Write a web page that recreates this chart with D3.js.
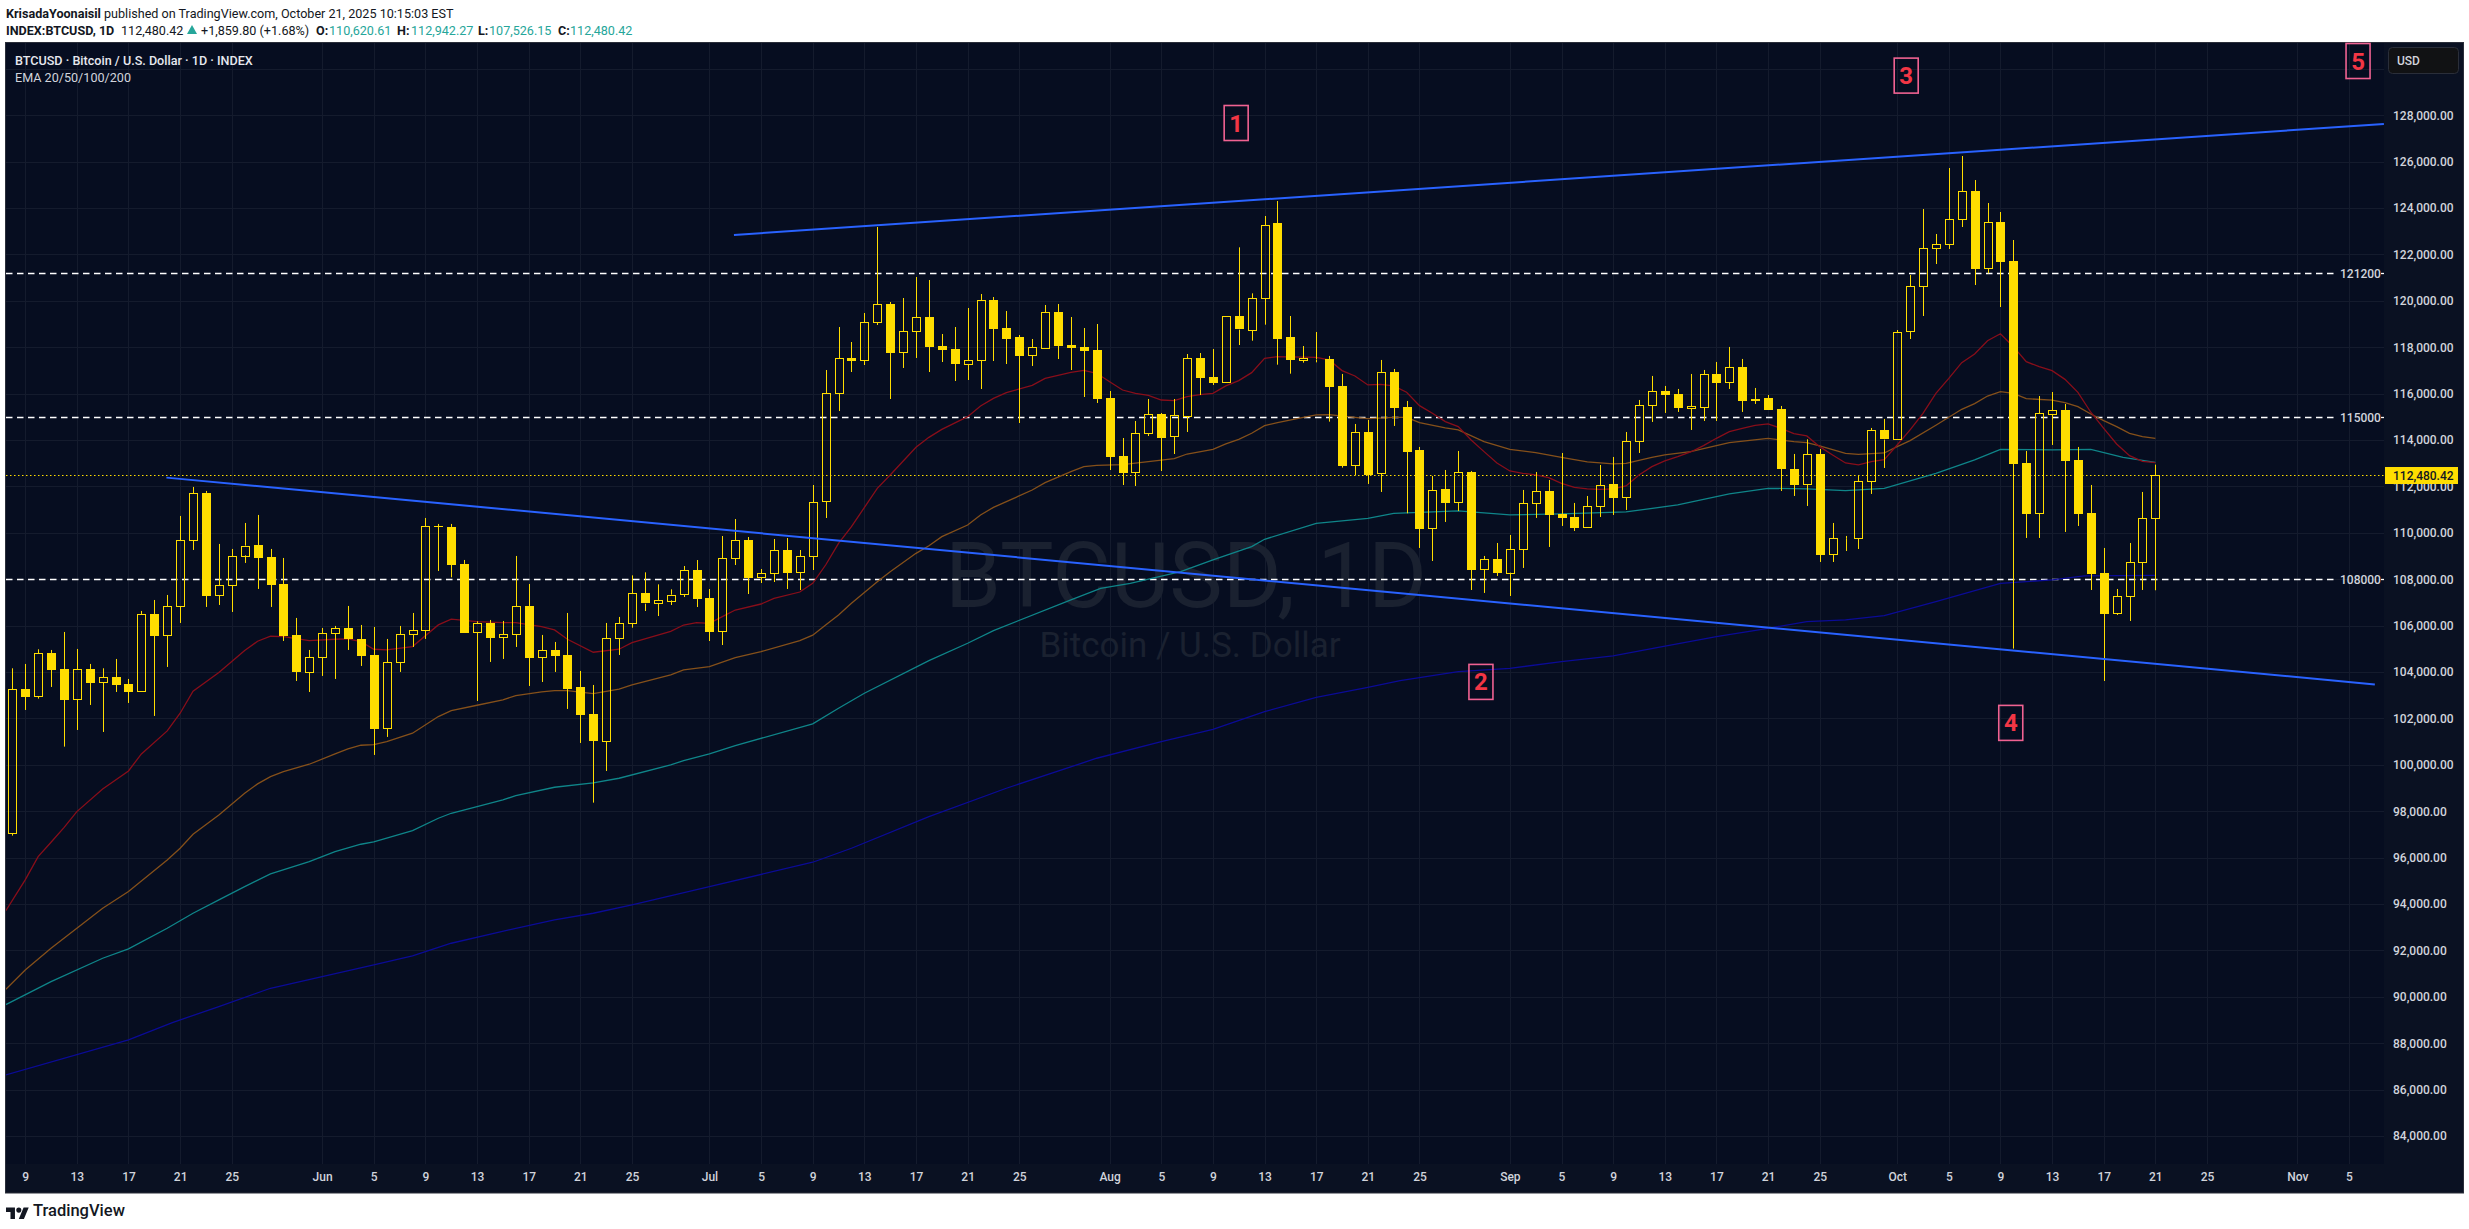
<!DOCTYPE html>
<html><head><meta charset="utf-8"><title>BTCUSD</title>
<script src="https://cdn.jsdelivr.net/npm/d3@7/dist/d3.min.js"></script>
<style>html,body{margin:0;padding:0;background:#fff}svg{display:block;font-family:Roboto,sans-serif}</style>
</head><body><div id="chart"></div>
<script>
const opens=[97049,103271,102940,104823,104133,102825,104133,103558,103788,103486,
103170,106504,105584,106834,109680,111720,107309,107740,109033,109478,
108961,107797,105599,103975,104636,105671,105900,105426,104737,101575,
104420,105627,105800,110283,110255,108659,105714,106116,105498,105627,
106849,104636,104952,104737,103357,102193,101014,105455,106099,107392,
106961,107091,107335,108398,107191,105754,108901,109692,108082,108255,
109261,108298,108987,111344,116014,117538,117423,119061,119866,117767,
118673,119305,118055,117926,117250,117423,120038,118831,118443,117638,
117969,119521,118098,118012,117882,115813,113313,112594,114276,115123,
114146,115037,117538,116718,116476,119333,118715,120109,123343,118442,
117437,117470,117497,116333,112898,114349,112553,116936,115427,113574,
110182,111892,111303,112625,108415,108875,108285,109277,111260,111806,
110815,110685,110225,111131,112108,111518,113933,115485,116117,115988,
115355,115398,116850,116476,117152,115772,115815,115341,112754,112079,
113401,109076,109765,109765,112223,114421,114033,118672,120626,122265,
122423,123515,124736,121402,123400,121718,113013,110829,115097,115298,
113142,110858,108271,106518,107251,108716,110620];
const closes=[103256,102940,104808,104104,102811,104118,103544,103774,103458,103156,
106490,105570,106834,109680,111706,107294,107740,108990,109450,108933,
107769,105570,104018,104636,105671,105886,105426,104708,101561,104420,
105627,105800,110283,110269,108631,105699,106102,105484,105627,106834,
104622,104938,104708,103271,102164,101043,105455,106102,107392,106947,
107091,107335,108384,107163,105740,108901,109677,108068,108255,109246,
108284,108987,111315,116014,117523,117408,119075,119851,117753,118687,
119291,118012,117882,117279,117437,120024,118788,118357,117624,117997,
119506,118055,117969,117839,115770,113270,112580,114290,115109,114089,
115066,117523,116675,116460,119333,118759,120109,123256,118356,117465,
117523,117490,116289,112884,114335,112496,116922,115398,113487,110168,
111835,111289,112611,108400,108860,108271,109306,111274,111792,110771,
110642,110211,111145,112050,111504,113947,115499,116103,115944,115384,
115456,116836,116462,117137,115686,115686,115298,112754,112065,113387,
109061,109765,109765,112223,114421,114019,118643,120626,122265,122437,
123515,124722,121374,123385,121675,112984,110814,115154,115283,113099,
110814,108228,106503,107265,108731,110628,112480];
const highs=[104162,104349,104981,104952,105728,104995,104349,104162,104564,103702,
106633,107107,107323,110729,111979,111807,109522,109306,110427,110772,
109306,108918,106332,104952,105900,105987,106849,106030,105944,105426,
105987,106547,110642,110384,110384,108832,106188,106245,106202,109004,
107797,105599,105297,106547,104047,103443,106116,106375,108168,108298,
107780,107565,108571,108829,107579,109864,110597,109821,108441,109735,
109778,109261,112063,117020,118874,118227,119478,123185,119952,120124,
121030,120900,118572,118874,119693,120297,120167,119564,118529,118357,
119822,119866,119305,118831,119003,116115,114089,114822,115770,115167,
115770,117710,117753,117925,119333,122308,120325,123659,124305,119348,
118054,118658,117626,116850,114694,114867,117453,117065,115686,113703,
112453,112711,113530,112668,109004,109564,109909,111849,112625,112280,
113444,111289,111590,112927,113272,114349,115729,116764,116333,116203,
116850,117022,117367,118014,117497,116246,115944,115470,113401,114033,
113617,110427,109866,112496,114522,114910,118744,121115,123960,122883,
125728,126245,125210,124219,123831,122624,113530,115899,116071,115554,
113703,112065,109349,107581,109564,111763,112942];
const lows=[96948,102365,102854,103357,100785,101503,102581,101417,103141,102667,
103170,102107,104219,106116,109263,106806,106892,106590,108703,107582,
106806,105340,103616,103141,103831,103702,104952,104262,100426,101202,
104004,105081,105426,108358,108085,105699,102753,104435,104564,105081,
103400,103572,104004,102409,100943,98371,99736,104736,105912,106631,
106415,106890,107234,106803,105338,105165,108614,107364,107838,107881,
107579,107536,108398,110640,115253,116934,117236,118960,115770,117107,
117538,116934,117365,116546,116589,116201,117408,117279,114736,117193,
117926,117494,117020,115856,115598,112709,112063,112020,114175,112666,
113399,114348,115942,116373,116476,118098,118284,118974,117250,116862,
117336,117350,114795,112812,112481,112108,111763,114608,110843,109349,
108788,110470,110944,107538,107409,108142,107279,108487,110642,109392,
110297,110082,110225,110685,110771,110987,113444,114781,115169,115212,
114436,114824,114824,116203,115212,115557,115298,111806,111590,111159,
108745,108745,109219,109305,111677,112797,114033,118356,119348,121589,
122236,123184,120684,121187,119735,105009,109780,109780,113789,110038,
110297,107538,103615,106460,106202,107538,107526];

// EMA readings: [session number (1 = May 8), price]
const ema20=[[0.5,93717],[2,95039],[3,96045],[4,96663],[5,97295],[6,97985],[8,98962],[10,99738],[11,100471],[13,101463],[14,102224],[15,103173],[17,103977],[19,104926],[20,105328],[21,105544],[22,105529],[24,105357],[26,105414],[27,105429],[28,105314],[29,104983],[30,104955],[32,105098],[34,106032],[35,106277],[37,106176],[39,106133],[40,106133],[42,105960],[43,105817],[44,105414],[46,104854],[48,104983],[49,105266],[52,105754],[53,106027],[54,106127],[55,106099],[56,106386],[57,106674],[59,106933],[60,107177],[62,107450],[63,107823],[64,108614],[65,109548],[66,110266],[68,111919],[69,112494],[71,113686],[72,114118],[73,114462],[75,115008],[76,115469],[77,115799],[78,116043],[80,116359],[81,116661],[83,116920],[84,117006],[85,116877],[86,116517],[87,116158],[88,116014],[89,115928],[90,115727],[91,115698],[92,115871],[93,115957],[94,116016],[95,116333],[96,116562],[97,116907],[98,117525],[99,117597],[100,117583],[102,117568],[103,117453],[104,116994],[105,116764],[106,116376],[107,116404],[108,116333],[109,116060],[110,115485],[111,115154],[112,114795],[113,114579],[114,114005],[115,113502],[116,113009],[117,112668],[118,112568],[119,112496],[120,112381],[121,112136],[122,111964],[123,111892],[124,111878],[125,111892],[126,112022],[127,112496],[128,112855],[129,113099],[130,113286],[131,113487],[132,113760],[133,114076],[134,114364],[135,114508],[136,114637],[137,114694],[138,114508],[139,114278],[140,114177],[141,113717],[142,113358],[143,113013],[144,112927],[145,113071],[146,113157],[147,113789],[148,114436],[149,115154],[150,116014],[151,116660],[152,117336],[153,117709],[154,118284],[155,118586],[156,118025],[157,117379],[158,117163],[159,116991],[160,116617],[161,116057],[162,115200],[163,114508],[164,113832],[165,113329],[166,113085],[167,113027]];
const ema50=[[0.5,90326],[2,91159],[4,92093],[6,92956],[8,93818],[10,94536],[13,95901],[14,96404],[15,97008],[17,97841],[19,98775],[20,99178],[21,99494],[22,99709],[24,100026],[26,100471],[27,100687],[28,100845],[29,100874],[30,101003],[32,101362],[34,102081],[35,102339],[37,102569],[39,102799],[40,102986],[42,103144],[43,103201],[44,103201],[46,103072],[48,103259],[49,103446],[52,103877],[53,104092],[55,104236],[57,104624],[59,104883],[62,105357],[63,105590],[64,106027],[65,106459],[66,106961],[68,107895],[69,108326],[71,109117],[72,109447],[73,109835],[75,110338],[76,110769],[77,111100],[78,111344],[80,111847],[81,112163],[83,112637],[84,112853],[85,112911],[87,112939],[89,113068],[91,113198],[92,113399],[94,113602],[95,113832],[96,114033],[97,114292],[98,114622],[99,114752],[101,114982],[102,115082],[103,115097],[105,114982],[106,114924],[108,114982],[109,114982],[110,114752],[112,114522],[113,114436],[115,113933],[117,113602],[119,113458],[121,113257],[123,113056],[125,112970],[126,112999],[128,113257],[129,113358],[131,113502],[134,113890],[137,114076],[139,113933],[140,113890],[141,113746],[143,113430],[144,113387],[146,113444],[147,113717],[148,113976],[150,114637],[152,115327],[153,115570],[154,115899],[155,116086],[156,116014],[157,115784],[159,115726],[160,115611],[161,115439],[162,115125],[163,114838],[164,114579],[165,114292],[166,114148],[167,114076]];
const ema100=[[0.5,89665],[4,90656],[8,91662],[10,92065],[13,92956],[15,93602],[17,94177],[19,94752],[21,95298],[24,95830],[26,96261],[28,96577],[29,96678],[32,97166],[34,97698],[35,97913],[39,98488],[40,98675],[43,99034],[46,99221],[48,99422],[52,99997],[53,100184],[55,100471],[57,100830],[63,101764],[65,102440],[67,103086],[72,104495],[75,105242],[77,105788],[83,107110],[85.3,107610],[87.6,107826],[91.5,108329],[94,108832],[97,109406],[98,109722],[102,110412],[106,110628],[108,110843],[113,110944],[117,110771],[121,110815],[126,110901],[130,111203],[134,111677],[137,111921],[140,111892],[143,111821],[146,111921],[150,112568],[153,113142],[155,113602],[159,113574],[162,113602],[164.5,113258],[167,113042]];
const ema200=[[0.5,86633],[10,88141],[13.4,88890],[17,89579],[21,90369],[29,91375],[32,91763],[35,92309],[40,92955],[43,93315],[46,93602],[49,93961],[55,94752],[63,95801],[66,96404],[72,97770],[78,98991],[85,100284],[90,100999],[94,101532],[98,102293],[102,102911],[106,103342],[108.5,103630],[113,104018],[117,104161],[121,104449],[125,104693],[128.5,105067],[133,105527],[137,105886],[140,106173],[143,106245],[146,106432],[150,107035],[155,107826],[159,107969],[161.5,108142],[167,108171]];

const trendUpper=[[56.9,122841],[184.7,127625]];
const trendLower=[[12.94,112381],[184,103468]];
const levels=[121200,115000,108000];
const lastPrice=112480.42;
const priceTicks=d3.range(84000,128001,2000);
const tickDates=["2025-05-09","2025-05-13","2025-05-17","2025-05-21","2025-05-25","2025-06-01","2025-06-05","2025-06-09","2025-06-13","2025-06-17","2025-06-21","2025-06-25","2025-07-01","2025-07-05","2025-07-09","2025-07-13","2025-07-17","2025-07-21","2025-07-25","2025-08-01","2025-08-05","2025-08-09","2025-08-13","2025-08-17","2025-08-21","2025-08-25","2025-09-01","2025-09-05","2025-09-09","2025-09-13","2025-09-17","2025-09-21","2025-09-25","2025-10-01","2025-10-05","2025-10-09","2025-10-13","2025-10-17","2025-10-21","2025-10-25","2025-11-01","2025-11-05"];
const notes=[["1",95.8,127668],["2",114.76,103575],["3",147.7,129711],["4",155.8,101808],["5",182.7,130340]];

const W=2469,H=1229;
const frame={l:6,t:43,r:2463,b:1192.5};
const plot={l:6,t:43,r:2384,b:1164};
const GOLD="#ffdd00",BG="#060d20",GRID="#141b2d",AXIS="#d1d4dc";
const DAY=864e5,T0=Date.UTC(2025,4,8);
const dateOf=s=>new Date(T0+(s-1)*DAY);

const x=d3.scaleUtc().domain([dateOf(1),dateOf(182)]).range([12.3,12.3+181*12.91]);
const y=d3.scaleLinear().domain([84000,128000]).range([1136,115.3]);

const svg=d3.select("#chart").append("svg").attr("width",W).attr("height",H).attr("viewBox",`0 0 ${W} ${H}`);
svg.append("rect").attr("width",W).attr("height",H).attr("fill","#fff");
svg.append("rect").attr("x",frame.l-.5).attr("y",frame.t-.5).attr("width",frame.r-frame.l+1).attr("height",frame.b-frame.t+1).attr("fill","#0a1122").attr("stroke","#2a2e39");
svg.append("rect").attr("x",plot.l).attr("y",plot.t).attr("width",plot.r-plot.l).attr("height",plot.b-plot.t).attr("fill",BG);
svg.append("defs").append("clipPath").attr("id","pc").append("rect").attr("x",plot.l).attr("y",plot.t).attr("width",plot.r-plot.l).attr("height",plot.b-plot.t);

// header
const head=svg.append("g").attr("font-size",12.6).attr("fill","#131722");
const h1=head.append("text").attr("x",6).attr("y",17.5);
h1.append("tspan").attr("font-weight",700).text("KrisadaYoonaisil");
h1.append("tspan").text(" published on TradingView.com, October 21, 2025 10:15:03 EST");
[["INDEX:BTCUSD, 1D",6,700,"#131722"],["112,480.42",121,400,"#131722"],["+1,859.80 (+1.68%)",201,400,"#131722"],["O:",316,700,"#131722"],["110,620.61",329,400,"#26a69a"],["H:",397,700,"#131722"],["112,942.27",411,400,"#26a69a"],["L:",478,700,"#131722"],["107,526.15",489,400,"#26a69a"],["C:",558,700,"#131722"],["112,480.42",570,400,"#26a69a"]]
 .forEach(d=>head.append("text").attr("x",d[1]).attr("y",34.5).attr("font-weight",d[2]).attr("fill",d[3]).text(d[0]));
head.append("path").attr("d","M192 25 L197 34 L187 34 Z").attr("fill","#26a69a");

// grid
const g=svg.append("g");
g.append("g").selectAll("line").data(tickDates).join("line")
 .attr("x1",d=>Math.round(x(new Date(d+"T00:00:00Z")))+.5).attr("x2",d=>Math.round(x(new Date(d+"T00:00:00Z")))+.5)
 .attr("y1",plot.t).attr("y2",plot.b).attr("stroke",GRID);
g.append("g").selectAll("line").data([...priceTicks,130000]).join("line")
 .attr("x1",plot.l).attr("x2",plot.r).attr("y1",d=>Math.round(y(d))+.5).attr("y2",d=>Math.round(y(d))+.5).attr("stroke",GRID);

// watermark
svg.append("text").attr("x",1186).attr("y",607).attr("text-anchor","middle").attr("font-size",90).attr("fill","#1a2130").text("BTCUSD, 1D");
svg.append("text").attr("x",1190).attr("y",657).attr("text-anchor","middle").attr("font-size",35).attr("fill","#1a2130").text("Bitcoin / U.S. Dollar");

// title
svg.append("text").attr("x",15).attr("y",65).attr("font-size",12.6).attr("font-weight",500).attr("fill","#e6e8ef").text("BTCUSD · Bitcoin / U.S. Dollar · 1D · INDEX");
svg.append("text").attr("x",15).attr("y",81.5).attr("font-size",12.6).attr("fill","#d1d4dc").text("EMA 20/50/100/200");

const view=svg.append("g").attr("clip-path","url(#pc)");

// levels
levels.forEach(v=>{
  const yy=Math.round(y(v))+.5;
  view.append("line").attr("x1",plot.l).attr("x2",2334).attr("y1",yy).attr("y2",yy).attr("stroke","#fff").attr("stroke-width",1.3).attr("stroke-dasharray","6.5 4.5");
  view.append("line").attr("x1",2381).attr("x2",2384).attr("y1",yy).attr("y2",yy).attr("stroke","#fff").attr("stroke-width",1.3);
  svg.append("text").attr("x",2340).attr("y",yy+4.5).attr("font-size",12).attr("font-weight",500).attr("fill",AXIS).text(v);
});
view.append("line").attr("x1",plot.l).attr("x2",plot.r).attr("y1",Math.round(y(lastPrice))+.5).attr("y2",Math.round(y(lastPrice))+.5).attr("stroke",GOLD).attr("stroke-width",1).attr("stroke-dasharray","1.5 2.5");

// EMAs
const line=d3.line().x(d=>x(dateOf(d[0]))).y(d=>y(d[1]));
[[ema200,"#0b0b96"],[ema100,"#0f8589"],[ema50,"#85501a"],[ema20,"#880e1a"]].forEach(([d,c])=>{
  view.append("path").attr("d",line(d)).attr("fill","none").attr("stroke",c).attr("stroke-width",1.3);
});

// candles
const candles=opens.map((o,i)=>({s:i+1,o,h:highs[i],l:lows[i],c:closes[i]}));
const cg=view.append("g");
candles.forEach(d=>{
  const cx=Math.round(x(dateOf(d.s)))+.5, up=d.c>=d.o;
  const top=y(Math.max(d.o,d.c)), bot=y(Math.min(d.o,d.c));
  cg.append("line").attr("x1",cx).attr("x2",cx).attr("y1",y(d.h)).attr("y2",top).attr("stroke",GOLD).attr("stroke-width",1);
  cg.append("line").attr("x1",cx).attr("x2",cx).attr("y1",bot).attr("y2",y(d.l)).attr("stroke",GOLD).attr("stroke-width",1);
  if(up) cg.append("rect").attr("x",cx-4).attr("width",8).attr("y",Math.round(top)+.5).attr("height",Math.max(0,Math.round(bot-top))).attr("fill","none").attr("stroke",GOLD).attr("stroke-width",1);
  else cg.append("rect").attr("x",cx-4.5).attr("width",9).attr("y",Math.round(top)).attr("height",Math.max(1,Math.round(bot-top))).attr("fill",GOLD);
});

// trend lines
[trendUpper,trendLower].forEach(t=>{
  view.append("path").attr("d",line(t)).attr("fill","none").attr("stroke","#2962ff").attr("stroke-width",2);
});

// numbered notes
const ng=svg.append("g");
notes.forEach(([t,s,p])=>{
  const nx=x(dateOf(s)), ny=y(p);
  ng.append("rect").attr("x",nx-12).attr("y",ny-17.5).attr("width",24).attr("height",35).attr("fill","none").attr("stroke","#f06292").attr("stroke-width",1.6);
  ng.append("text").attr("x",nx).attr("y",ny+8.5).attr("text-anchor","middle").attr("font-size",24).attr("font-weight",700).attr("fill","#f23645").text(t);
});

// axes
const ya=svg.append("g").attr("transform",`translate(2393,0)`)
  .call(d3.axisRight(y).tickValues(priceTicks).tickSize(0).tickPadding(0).tickFormat(d3.format(",.2f")));
ya.select(".domain").remove();
ya.selectAll("text").attr("font-family","Roboto").attr("font-size",12).attr("font-weight",500).attr("fill",AXIS);

const xa=svg.append("g").attr("transform",`translate(0,${plot.b+5})`)
  .call(d3.axisBottom(x).tickValues(tickDates.map(d=>new Date(d+"T00:00:00Z"))).tickSize(0).tickPadding(3)
    .tickFormat(d=>d.getUTCDate()===1?d3.utcFormat("%b")(d):d.getUTCDate()));
xa.select(".domain").remove();
xa.selectAll("text").attr("font-family","Roboto").attr("font-size",12).attr("font-weight",500).attr("fill",AXIS);

// last price tag
svg.append("rect").attr("x",2385).attr("y",Math.round(y(lastPrice))-8).attr("width",73).attr("height",17).attr("fill",GOLD);
svg.append("text").attr("x",2393).attr("y",Math.round(y(lastPrice))+4.5).attr("font-size",12).attr("font-weight",500).attr("fill","#131722").text("112,480.42");

// currency button
svg.append("rect").attr("x",2388.5).attr("y",47.5).attr("width",70).attr("height",26).attr("rx",4).attr("fill","#111214").attr("stroke","#2a2e39");
svg.append("text").attr("x",2397).attr("y",65).attr("font-size",12).attr("font-weight",500).attr("fill",AXIS).text("USD");

// footer brand
const logo=svg.append("g").attr("transform","translate(6,1205) scale(0.64)").attr("fill","#131722");
logo.append("path").attr("d","M14 22H7V11H0V4h14v18zM28 22h-8l7.5-18h8L28 22z");
logo.append("circle").attr("cx",20).attr("cy",8).attr("r",4);
svg.append("text").attr("x",33).attr("y",1216).attr("font-size",16.5).attr("font-weight",500).attr("fill","#131722").text("TradingView");
</script></body></html>
